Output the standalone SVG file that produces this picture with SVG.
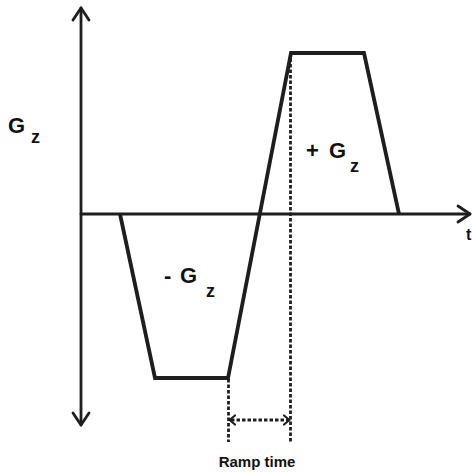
<svg xmlns="http://www.w3.org/2000/svg" width="472" height="472" viewBox="0 0 472 472">
<style>
.ax{fill:none;stroke:#1e1e1e;stroke-width:2.8;stroke-linecap:round;stroke-linejoin:round}
.wave{fill:none;stroke:#1e1e1e;stroke-width:3.8;stroke-linejoin:miter}
.dash{fill:none;stroke:#1e1e1e;stroke-width:2.8;stroke-dasharray:3.5 2}
.t{font-family:"Liberation Sans",Arial,sans-serif;font-weight:bold;fill:#111}
.big{font-size:22px}
.sub{font-size:18px}
</style>
<rect width="472" height="472" fill="#fff"/>
<g id="connectors">
<path class="ax" d="M81,8 V425"/>
<path class="ax" d="M73,20 L81,8 L89,20"/>
<path class="ax" d="M73,413 L81,425 L89,413"/>
<path class="ax" d="M81,214 H470"/>
<path class="ax" d="M458,206 L470,214 L458,222"/>
<path class="dash" d="M290.5,53 V442"/>
<path class="dash" d="M228.5,379 V442"/>
<path class="dash" d="M231,420 H288"/>
<path class="ax" style="stroke-width:2.2" d="M235,415.5 L229.5,420 L235,424.5"/>
<path class="ax" style="stroke-width:2.2" d="M284,415.5 L289.5,420 L284,424.5"/>
</g>
<g id="waveform">
<path class="wave" d="M120,214 L155,378 H228 L291,53 H364 L399,214"/>
</g>
<g id="label-gz">
<text class="t big" x="8" y="133">G</text>
<text class="t sub" x="31" y="143">z</text>
</g>
<g id="label-pos">
<text class="t big" x="306" y="158">+</text>
<text class="t big" x="329" y="158">G</text>
<text class="t sub" x="350" y="172">z</text>
</g>
<g id="label-neg">
<text class="t big" x="164" y="283">-</text>
<text class="t big" x="180" y="283">G</text>
<text class="t sub" x="206" y="297">z</text>
</g>
<g id="label-t">
<text class="t" x="466" y="240" font-size="16">t</text>
</g>
<g id="label-ramp">
<text class="t" x="257" y="467" font-size="15" text-anchor="middle">Ramp time</text>
</g>
</svg>
